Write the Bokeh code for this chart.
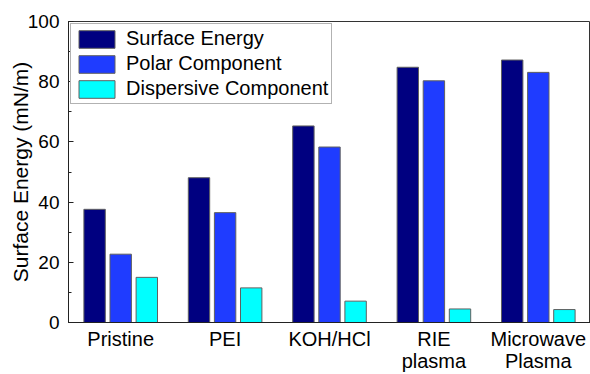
from bokeh.plotting import figure
from bokeh.models import ColumnDataSource, FactorRange, Range1d, SingleIntervalTicker, Legend, LegendItem
from bokeh.transform import dodge
from bokeh.embed import file_html
from bokeh.resources import INLINE

categories = ["Pristine", "PEI", "KOH/HCl", "RIE\nplasma", "Microwave\nPlasma"]
surface_energy = [37.6, 48.1, 65.3, 84.8, 87.2]
polar_component = [22.7, 36.5, 58.3, 80.3, 83.1]
dispersive_component = [15.0, 11.5, 7.1, 4.5, 4.3]
series_names = ["Surface Energy", "Polar Component", "Dispersive Component"]
series_colors = ["#000080", "#1f3cff", "#00ffff"]

FONT = "Liberation Sans"

src = ColumnDataSource(dict(cat=categories, se=surface_energy,
                            pc=polar_component, dc=dispersive_component))

p = figure(width=590, height=374, output_backend="svg", toolbar_location=None,
           x_range=FactorRange(factors=categories, range_padding=0),
           y_range=Range1d(0, 100),
           min_border_left=68, min_border_top=21, min_border_right=0, min_border_bottom=49)
p.background_fill_color = "white"
p.border_fill_color = "white"
p.outline_line_color = "#333333"
p.grid.visible = False

r1 = p.vbar(x=dodge("cat", -0.25, range=p.x_range), top="se", width=0.205, source=src,
            fill_color=series_colors[0], line_color="#606060", line_width=1)
r2 = p.vbar(x=dodge("cat", 0.0, range=p.x_range), top="pc", width=0.205, source=src,
            fill_color=series_colors[1], line_color="#606060", line_width=1)
r3 = p.vbar(x=dodge("cat", 0.25, range=p.x_range), top="dc", width=0.205, source=src,
            fill_color=series_colors[2], line_color="#606060", line_width=1)

yax = p.yaxis[0]
yax.ticker = SingleIntervalTicker(interval=20, num_minor_ticks=2)
yax.axis_label = "Surface Energy (mN/m)"
yax.axis_label_text_font = FONT
yax.axis_label_text_font_size = "21px"
yax.axis_label_text_font_style = "normal"
yax.axis_label_text_color = "black"
yax.axis_label_standoff = -7
yax.major_label_text_font = FONT
yax.major_label_text_font_size = "19px"
yax.major_label_text_color = "black"
yax.major_label_standoff = 9
yax.major_tick_in = 5
yax.major_tick_out = 0
yax.minor_tick_in = 3
yax.minor_tick_out = 0
yax.axis_line_color = "#222222"
yax.major_tick_line_color = "#222222"
yax.minor_tick_line_color = "#222222"

xax = p.xaxis[0]
xax.major_label_text_font = FONT
xax.major_label_text_font_size = "20px"
xax.major_label_text_color = "black"
xax.major_label_text_line_height = 1.0
xax.major_label_standoff = 5
xax.major_tick_in = 0
xax.major_tick_out = 0
xax.axis_line_color = "#222222"

legend = Legend(items=[LegendItem(label=series_names[0], renderers=[r1]),
                       LegendItem(label=series_names[1], renderers=[r2]),
                       LegendItem(label=series_names[2], renderers=[r3])],
                location="top_left", margin=2, padding=3, spacing=2,
                glyph_width=45, glyph_height=22, label_height=22, label_standoff=7,
                label_text_font=FONT, label_text_font_size="20px", label_text_color="black",
                border_line_color="#666666", border_line_width=1,
                background_fill_color="white", background_fill_alpha=1)
p.add_layout(legend)

open("out.html", "w").write(file_html(p, INLINE))
